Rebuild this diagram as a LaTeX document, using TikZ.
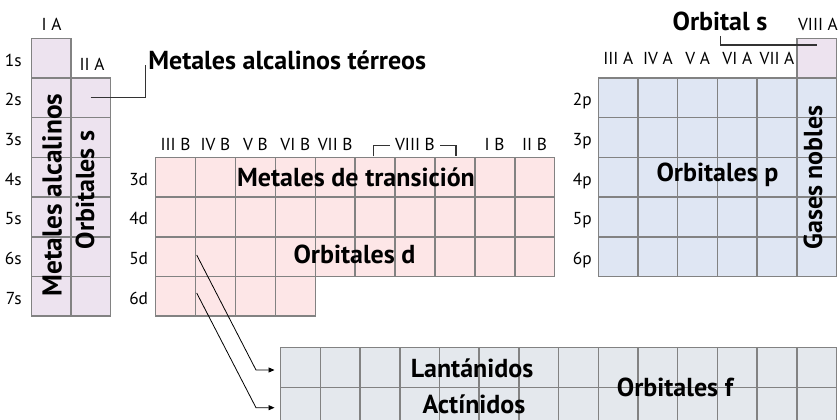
\documentclass[tikz,border=0pt]{standalone}
\usepackage{fontspec}
\setmainfont{PT Sans}
\usetikzlibrary{arrows.meta}
\definecolor{sfill}{HTML}{EDE3EF}
\definecolor{dfill}{HTML}{FDE6E7}
\definecolor{pfill}{HTML}{DFE6F3}
\definecolor{ffill}{HTML}{E4E8ED}
\definecolor{gridc}{HTML}{828282}
\definecolor{leadc}{HTML}{333333}
\begin{document}
\begin{tikzpicture}[x=0.75pt,y=-0.75pt,
  cell/.style={draw=gridc,line width=1.1pt},
  lbl/.style={font=\fontsize{13}{15}\selectfont,inner sep=0pt,anchor=base},
  rlbl/.style={font=\fontsize{13}{15}\selectfont,inner sep=0pt,anchor=base east},
  big/.style={font=\fontsize{19.5}{22}\selectfont\bfseries,inner sep=0pt},
  lead/.style={draw=leadc,line width=0.8pt},
  conn/.style={draw=black,line width=0.6pt,-{Triangle[length=4.5pt,width=3.8pt]}}]
\useasboundingbox (0,0) rectangle (838,420);
\clip (0,0) rectangle (838,420);

% s block
\foreach \r in {0,...,6} \draw[cell,fill=sfill] (31.3,38.3+39.7*\r) rectangle ++(39.7,39.7);
\foreach \r in {1,...,6} \draw[cell,fill=sfill] (71,38.3+39.7*\r) rectangle ++(39.7,39.7);

% d block
\foreach \r in {0,1,2} \foreach \c in {0,...,9} \draw[cell,fill=dfill] (155.7+39.9*\c,157.4+39.7*\r) rectangle ++(39.9,39.7);
\foreach \c in {0,...,3} \draw[cell,fill=dfill] (155.7+39.9*\c,276.5) rectangle ++(39.9,39.7);

% p block
\draw[cell,fill=sfill] (796.8,38.3) rectangle ++(39.7,39.7);
\foreach \r in {0,...,4} \foreach \c in {0,...,5} \draw[cell,fill=pfill] (598.3+39.7*\c,78+39.7*\r) rectangle ++(39.7,39.7);

% f block
\foreach \r in {0,1} \foreach \c in {0,...,13} \draw[cell,fill=ffill] (280.7+39.7*\c,347.5+39.9*\r) rectangle ++(39.7,39.9);

% row labels
\foreach \t [count=\i] in {1s,2s,3s,4s,5s,6s,7s} \node[rlbl] (rs\i) at (22,26.5+39.7*\i) {\t};
\foreach \t [count=\i] in {3d,4d,5d,6d} \node[rlbl] (rd\i) at (148.3,145.5+39.7*\i) {\t};
\foreach \t [count=\i] in {2p,3p,4p,5p,6p} \node[rlbl] (rp\i) at (592,66+39.7*\i) {\t};

% column headers
\node[lbl] (hIA) at (51.5,30.5) {I A};
\node[lbl] (hIIA) at (92,70.5) {II A};
\foreach \t [count=\i] in {III B,IV B,V B,VI B,VII B} \node[lbl] (hb\i) at (135.7+39.9*\i,150.7) {\t};
\node[lbl] (hVIIIB) at (415,150.7) {VIII B};
\node[lbl] (hIB) at (494.5,150.7) {I B};
\node[lbl] (hIIB) at (534.5,150.7) {II B};
\foreach \t [count=\i] in {III A,IV A,V A,VI A,VII A} \node[lbl] (ha\i) at (578.5+39.7*\i,65) {\t};
\node[lbl] (hVIIIA) at (818,30.5) {VIII A};

% VIII B bracket
\coordinate (bl1) at (373.3,156.5);
\coordinate (bl2) at (390,145.7);
\coordinate (br1) at (440,145.7);
\coordinate (br2) at (456,156.5);
\draw[lead] (bl1) |- (bl2);
\draw[lead] (br1) -| (br2);

% big labels
\node[big,anchor=base west] (malt) at (148,70) {Metales alcalinos térreos};
\node[big,anchor=base] (orbs) at (720,30.5) {Orbital s};
\node[big,rotate=90,font=\fontsize{20.5}{22}\selectfont\bfseries] (malc) at (52,195) {Metales alcalinos};
\node[big,rotate=90] (orbss) at (85,190) {Orbitales s};
\node[big] (mtrans) at (356,177) {Metales de transición};
\node[big] (orbd) at (354.5,254) {Orbitales d};
\node[big] (orbp) at (717.5,175) {Orbitales p};
\node[big,rotate=90] (gases) at (813,177.5) {Gases nobles};
\node[big] (lant) at (472,368) {Lantánidos};
\node[big] (act) at (474,404.5) {Actínidos};
\node[big] (orbf) at (675,387) {Orbitales f};

% leader lines
\coordinate (t1) at (90.5,97.5);
\coordinate (t2) at (145.7,65);
\draw[lead] (t1) -| (t2);
\coordinate (o1) at (720.7,36);
\coordinate (o2) at (816.7,45);
\draw[lead] (o1) |- (o2);

% connectors to f block
\coordinate (a1) at (196.7,255);
\coordinate (a1k) at (256,370);
\coordinate (a1e) at (274.5,370);
\coordinate (a2) at (196.7,293);
\coordinate (a2k) at (256,407.7);
\coordinate (a2e) at (274.5,407.7);
\draw[conn] (a1) -- (a1k) -- (a1e);
\draw[conn] (a2) -- (a2k) -- (a2e);
\end{tikzpicture}
\end{document}
